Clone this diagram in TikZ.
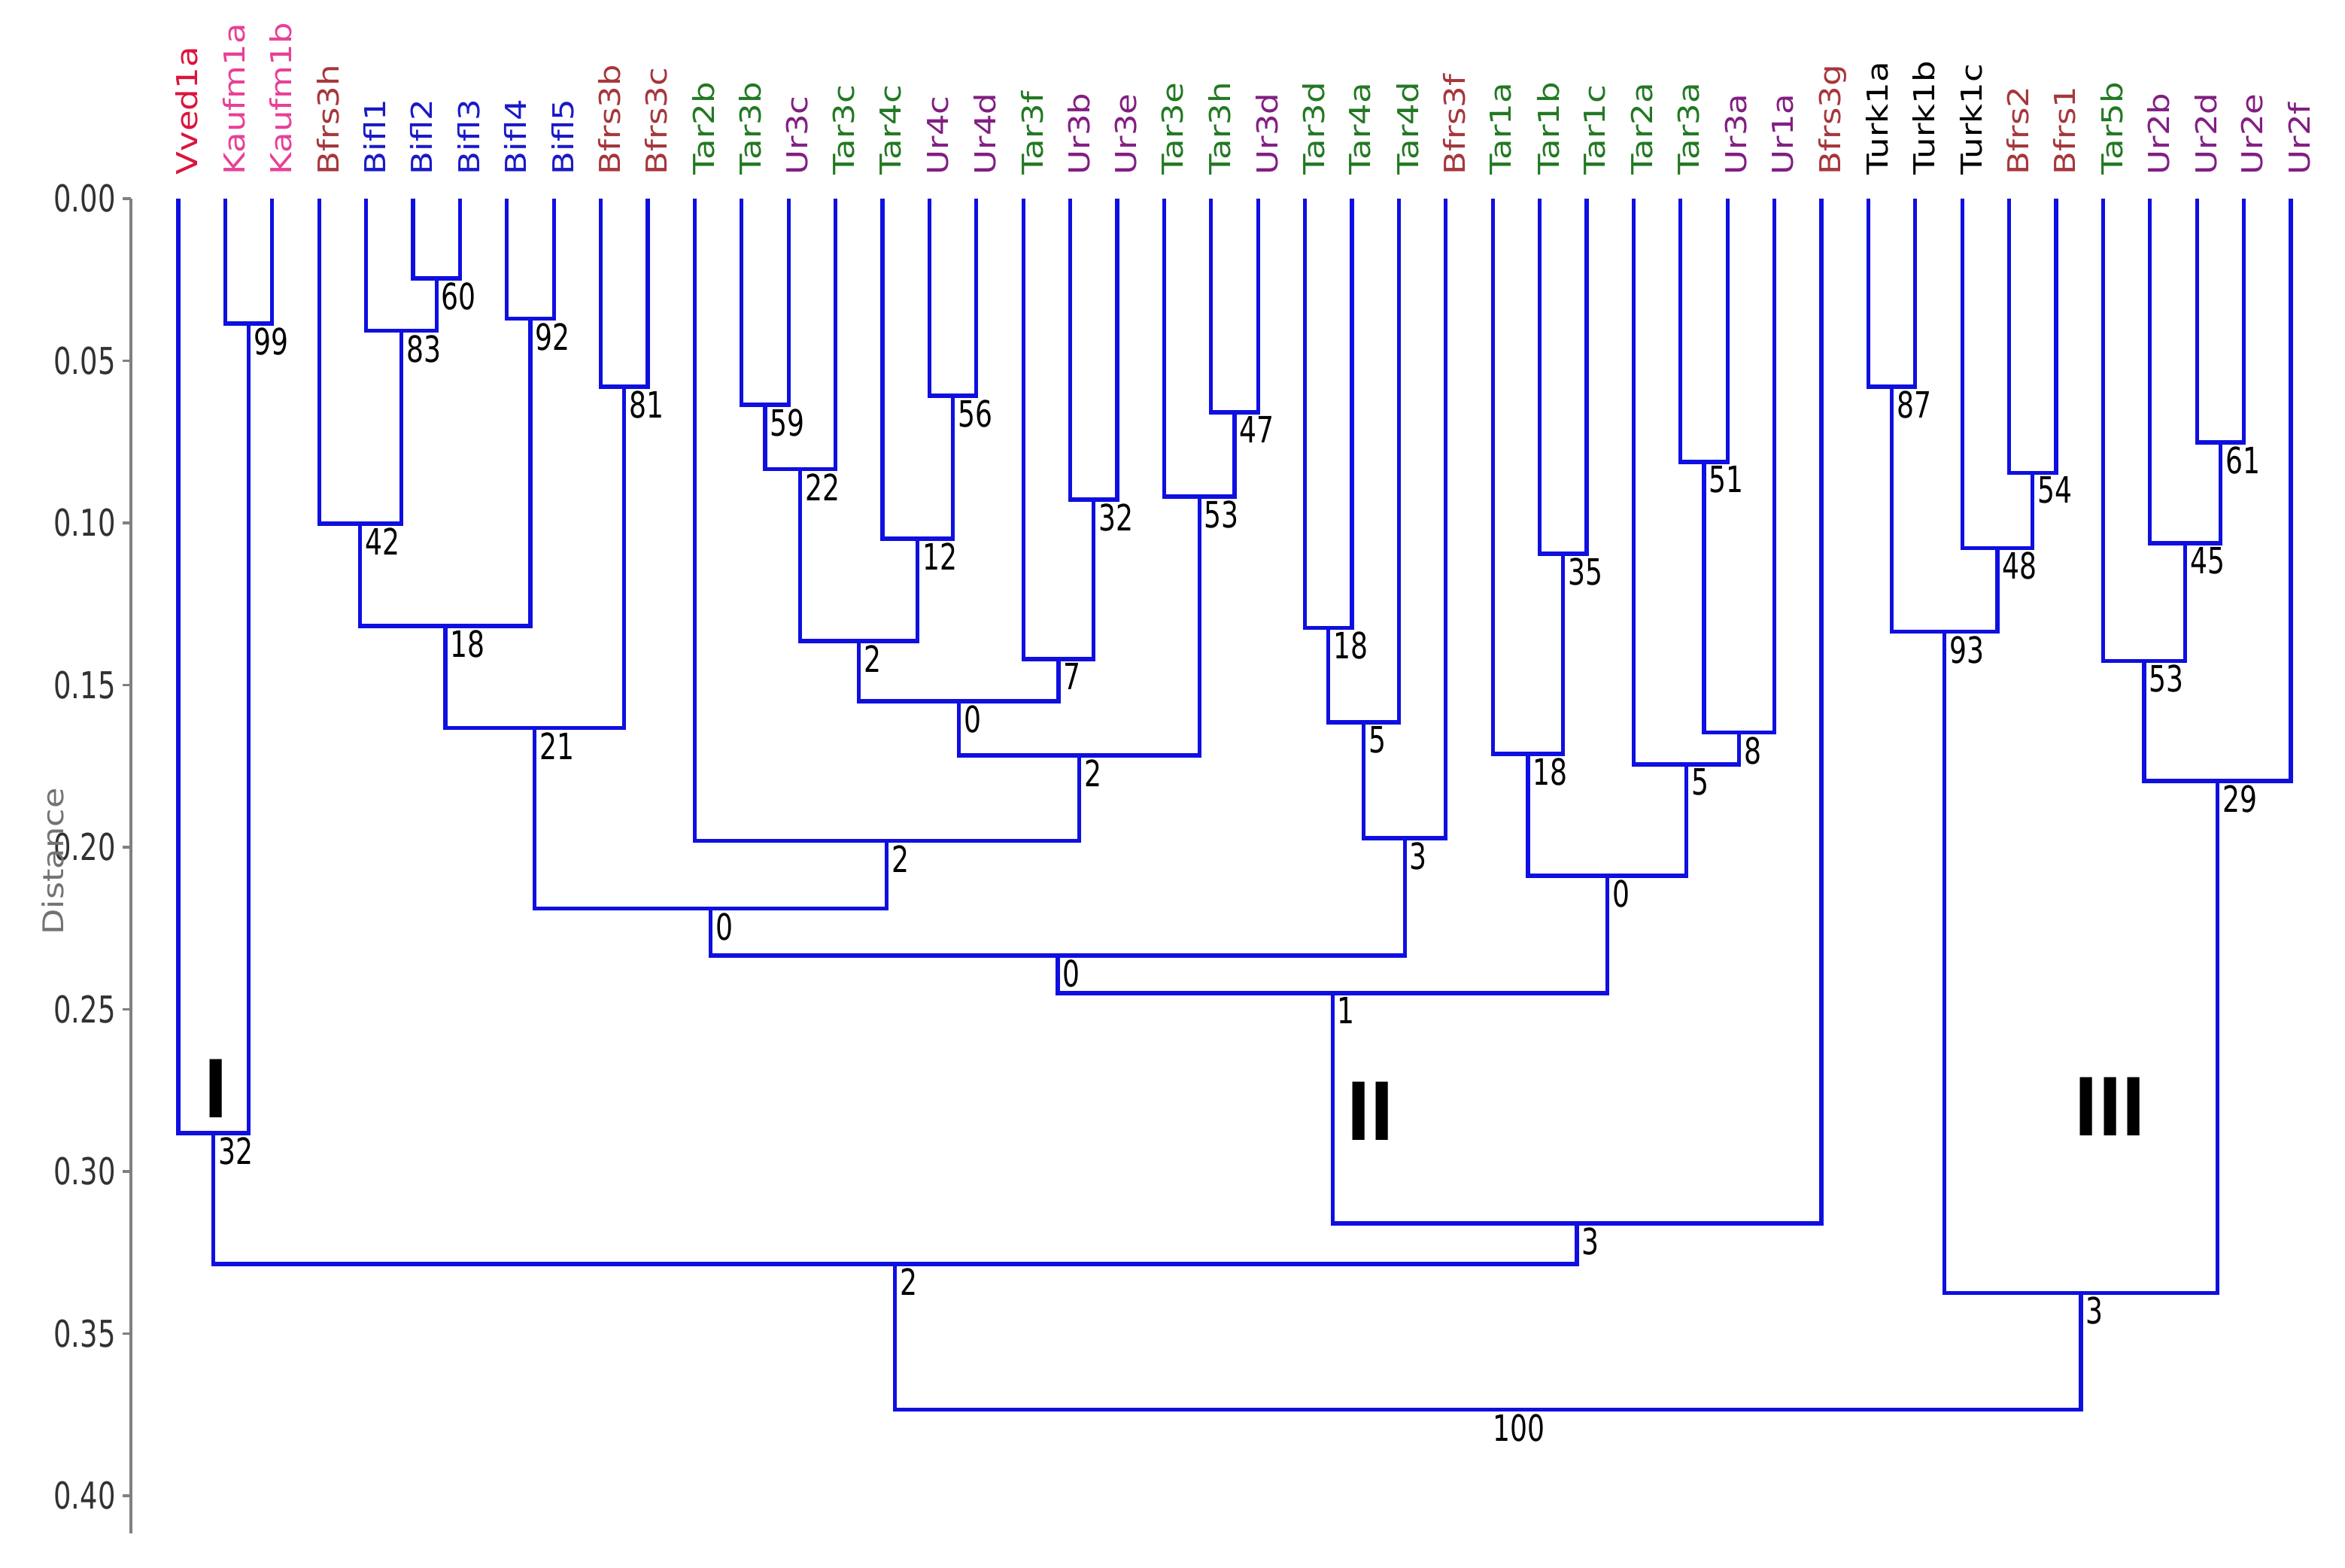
\documentclass[tikz,border=0pt]{standalone}
\usepackage{fontspec}
\setmainfont{DejaVu Sans}
\newfontfamily\leaffont{DejaVu Sans}[FakeStretch=1.176]
\newfontfamily\numfont{DejaVu Sans}[FakeStretch=0.75]
\newfontfamily\romanfont{Liberation Sans}
\definecolor{vvedcol}{RGB}{220,20,60}
\definecolor{kaufcol}{RGB}{232,64,150}
\definecolor{bfrscol}{RGB}{165,55,60}
\definecolor{biflcol}{RGB}{25,25,200}
\definecolor{tarcol}{RGB}{35,120,35}
\definecolor{urcol}{RGB}{130,30,130}
\definecolor{turkcol}{RGB}{0,0,0}
\definecolor{branchcol}{RGB}{15,15,225}
\definecolor{axiscol}{RGB}{128,128,128}
\definecolor{ticktext}{RGB}{50,50,50}
\tikzset{
  branch/.style={draw=branchcol,line width=1.5pt},
  leaflab/.style={rotate=90,anchor=north west,inner sep=0pt,font=\leaffont\fontsize{10.9}{12}\selectfont},
  boot/.style={anchor=north west,inner sep=0pt,xshift=0.06cm,yshift=-0.05cm,font=\numfont\fontsize{13.7}{15}\selectfont},
  axisline/.style={draw=axiscol,line width=1pt},
  ticklab/.style={anchor=east,inner sep=0pt,xshift=-0.08cm,text=ticktext,font=\numfont\fontsize{14}{15}\selectfont},
  group/.style={inner sep=0pt,font=\romanfont\bfseries\fontsize{32}{34}\selectfont}
}
\begin{document}
\begin{tikzpicture}[x=0.624cm,y=-43.1cm]
  \useasboundingbox (-3.798,-0.06125) rectangle (46.154,0.42227);

  % distance axis
  \coordinate (axtop) at (-1.01,0);
  \coordinate (axbot) at (-1.01,0.4116);
  \draw[axisline] (axtop) -- (axbot);
  \foreach \t [count=\k from 0] in {0.00,0.05,0.10,0.15,0.20,0.25,0.30,0.35,0.40}{
    \coordinate (tk\k) at (-1.01,\t);
    \draw[axisline] (tk\k) -- ++(-0.17,0) node[ticklab] (tl\k) {\t};
  }
  \path node[rotate=90,text=axiscol!90!black,inner sep=0pt,font=\leaffont\fontsize{10.8}{12}\selectfont] (dist) at (-2.676,0.2044) {Distance};

  % leaves
  \foreach \nm/\col [count=\i from 0] in {Vved1a/vvedcol,Kaufm1a/kaufcol,Kaufm1b/kaufcol,
      Bfrs3h/bfrscol,Bifl1/biflcol,Bifl2/biflcol,Bifl3/biflcol,Bifl4/biflcol,Bifl5/biflcol,
      Bfrs3b/bfrscol,Bfrs3c/bfrscol,Tar2b/tarcol,Tar3b/tarcol,Ur3c/urcol,Tar3c/tarcol,
      Tar4c/tarcol,Ur4c/urcol,Ur4d/urcol,Tar3f/tarcol,Ur3b/urcol,Ur3e/urcol,Tar3e/tarcol,
      Tar3h/tarcol,Ur3d/urcol,Tar3d/tarcol,Tar4a/tarcol,Tar4d/tarcol,Bfrs3f/bfrscol,
      Tar1a/tarcol,Tar1b/tarcol,Tar1c/tarcol,Tar2a/tarcol,Tar3a/tarcol,Ur3a/urcol,Ur1a/urcol,
      Bfrs3g/bfrscol,Turk1a/turkcol,Turk1b/turkcol,Turk1c/turkcol,Bfrs2/bfrscol,Bfrs1/bfrscol,
      Tar5b/tarcol,Ur2b/urcol,Ur2d/urcol,Ur2e/urcol,Ur2f/urcol}{
    \coordinate (\nm) at (\i,0);
    \path node[leaflab,text=\col] (\nm-lab) at (\i-0.064,-0.0072) {\nm};
  }

  % clusters: name/left/right/x/height/bootstrap
  \foreach \nn/\lc/\rc/\xx/\hh/\bv in {
      j1/Kaufm1a/Kaufm1b/1.5/0.0385/99,
      j2/Bifl2/Bifl3/5.5/0.0246/60,
      j3/Bifl1/j2/4.75/0.0408/83,
      j4/Bifl4/Bifl5/7.5/0.0371/92,
      j5/Bfrs3b/Bfrs3c/9.5/0.0580/81,
      j6/Bfrs3h/j3/3.875/0.1002/42,
      j7/j6/j4/5.6875/0.1318/18,
      j8/j7/j5/7.59375/0.1633/21,
      j9/Tar3b/Ur3c/12.5/0.0636/59,
      j10/j9/Tar3c/13.25/0.0835/22,
      j11/Ur4c/Ur4d/16.5/0.0608/56,
      j12/Tar4c/j11/15.75/0.1049/12,
      j13/j10/j12/14.5/0.1364/2,
      j14/Ur3b/Ur3e/19.5/0.0928/32,
      j15/Tar3f/j14/18.75/0.1420/7,
      j16/j13/j15/16.625/0.1550/0,
      j17/Tar3h/Ur3d/22.5/0.0659/47,
      j18/Tar3e/j17/21.75/0.0919/53,
      j19/j16/j18/19.1875/0.1717/2,
      j20/Tar2b/j19/15.09375/0.1981/2,
      j21/j8/j20/11.34375/0.2190/0,
      j22/Tar3d/Tar4a/24.5/0.1323/18,
      j23/j22/Tar4d/25.25/0.1615/5,
      j24/j23/Bfrs3f/26.125/0.1972/3,
      j25/j21/j24/18.734/0.2334/0,
      j26/Tar1b/Tar1c/29.5/0.1095/35,
      j27/Tar1a/j26/28.75/0.1712/18,
      j28/Tar3a/Ur3a/32.5/0.0812/51,
      j29/j28/Ur1a/33.25/0.1647/8,
      j30/Tar2a/j29/32.125/0.1745/5,
      j31/j27/j30/30.4375/0.2088/0,
      j32/j25/j31/24.586/0.2450/1,
      j33/j32/Bfrs3g/29.79/0.3160/3,
      j34/Vved1a/j1/0.75/0.2882/32,
      j35/j34/j33/15.27/0.3285/2,
      j36/Turk1a/Turk1b/36.5/0.0580/87,
      j37/Bfrs2/Bfrs1/39.5/0.0845/54,
      j38/Turk1c/j37/38.75/0.1077/48,
      j39/j36/j38/37.625/0.1336/93,
      j40/Ur2d/Ur2e/43.5/0.0752/61,
      j41/Ur2b/j40/42.75/0.1063/45,
      j42/Tar5b/j41/41.875/0.1425/53,
      j43/j42/Ur2f/43.4375/0.1796/29,
      j44/j39/j43/40.53/0.3374/3,
      root/j35/j44/27.9/0.3735/100}{
    \coordinate (\nn) at (\xx,\hh);
    \draw[branch] (\lc) |- (\nn) -| (\rc);
    \path node[boot] (\nn-b) at (\nn) {\bv};
  }

  % groups
  \path node[group] (grI) at (0.80,0.2745) {I};
  \path node[group] (grII) at (25.40,0.2814) {II};
  \path node[group] (grIII) at (41.15,0.2800) {III};
\end{tikzpicture}
\end{document}
